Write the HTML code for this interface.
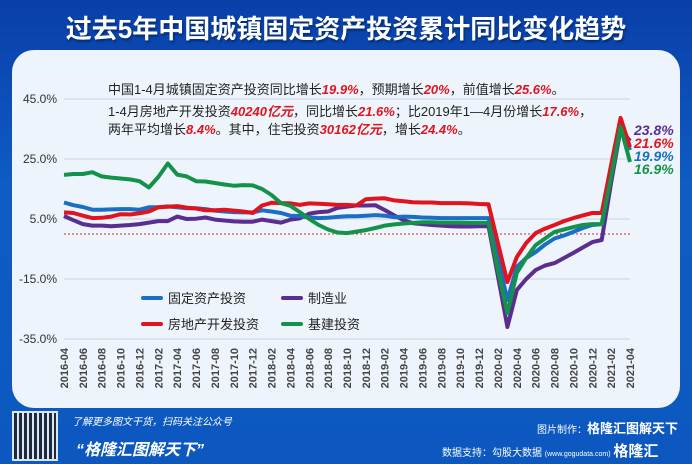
<!DOCTYPE html>
<html><head><meta charset="utf-8">
<style>
body{margin:0;width:692px;height:464px;overflow:hidden;background:linear-gradient(180deg,#0a3fa8 0%,#0e5cc4 40%,#0c58bf 100%);font-family:"Liberation Sans","Noto Sans CJK SC",sans-serif;position:relative}
.t{position:absolute;white-space:nowrap}
.r{color:#e0141e;font-weight:bold;font-style:italic}
</style></head><body>
<div class="t" style="left:0;width:692px;text-align:center;top:9px;font-size:26px;font-weight:bold;color:#fff;text-shadow:1px 2px 2px #032a6e">过去5年中国城镇固定资产投资累计同比变化趋势</div>
<div style="position:absolute;left:12px;top:50px;width:668px;height:358px;background:#eef4fb;border-radius:22px"></div>
<svg id="chart" width="692" height="464" style="position:absolute;left:0;top:0" xmlns="http://www.w3.org/2000/svg"></svg>
<div class="t" style="left:108px;top:79px;font-size:13px;color:#222">中国1-4月城镇固定资产投资同比增长<span class="r">19.9%</span>，预期增长<span class="r">20%</span>，前值增长<span class="r">25.6%</span>。</div>
<div class="t" style="left:108px;top:101px;font-size:13px;color:#222">1-4月房地产开发投资<span class="r">40240亿元</span>，同比增长<span class="r">21.6%</span>；比2019年1—4月份增长<span class="r">17.6%</span>，</div>
<div class="t" style="left:108px;top:119px;font-size:13px;color:#222">两年平均增长<span class="r">8.4%</span>。其中，住宅投资<span class="r">30162亿元</span>，增长<span class="r">24.4%</span>。</div>
<div class="t" style="left:634px;top:122px;font-size:14px;font-weight:bold;font-style:italic;color:#5b2d91">23.8%</div>
<div class="t" style="left:634px;top:135px;font-size:14px;font-weight:bold;font-style:italic;color:#e0141e">21.6%</div>
<div class="t" style="left:634px;top:148px;font-size:14px;font-weight:bold;font-style:italic;color:#1a6fc4">19.9%</div>
<div class="t" style="left:634px;top:161px;font-size:14px;font-weight:bold;font-style:italic;color:#14924a">16.9%</div>
<div style="position:absolute;left:12px;top:411px;width:46px;height:50px;background:repeating-linear-gradient(90deg,#222 0 3px,#fff 3px 5px),#fff;opacity:.85;border:2px solid #fff;box-sizing:border-box"></div>
<div class="t" style="left:72px;top:413px;font-size:10px;font-style:italic;color:#fff">了解更多图文干货，扫码关注公众号</div>
<div class="t" style="left:76px;top:436px;font-size:16px;font-weight:bold;font-style:italic;color:#fff">“格隆汇图解天下”</div>
<div class="t" style="left:537px;top:418px;font-size:10px;color:#fff">图片制作：<b style="font-size:13px">格隆汇图解天下</b></div>
<div class="t" style="left:442px;top:440px;font-size:10px;color:#fff">数据支持：勾股大数据 <span style="font-size:7px">(www.gogudata.com)</span> <b style="font-size:15px">格隆汇</b></div>
<script>
const categories=[];for(let y=2016;y<=2021;y++)for(let m=1;m<=12;m++){if((y===2016&&m<4)||(y===2021&&m>4))continue;categories.push(y+'-'+String(m).padStart(2,'0'));}
const yTicks=[45,25,5,-15,-35];
const fixedAsset=[10.5,9.6,9.0,8.1,8.1,8.2,8.3,8.3,8.1,8.9,8.9,9.2,8.9,8.6,8.6,8.3,7.8,7.5,7.3,7.2,7.2,7.9,7.5,7.0,6.1,6.0,5.5,5.3,5.4,5.7,5.9,5.9,6.1,6.3,6.1,5.6,5.8,5.7,5.5,5.4,5.3,5.3,5.3,5.3,5.3,5.3,-8,-22,-11,-8,-6,-3.5,-1.5,-0.5,0.7,2,3,3.3,20,36,28];
const realEstate=[7.2,7.0,6.1,5.3,5.4,5.8,6.6,6.5,6.9,7.5,8.9,9.1,9.3,8.8,8.5,7.9,7.9,8.1,7.8,7.5,7.0,9.5,10.4,10.3,10.2,9.7,10.2,10.1,9.9,9.7,9.7,9.5,11.6,11.8,11.9,11.2,10.9,10.6,10.5,10.5,10.3,10.3,10.3,10.2,10.0,9.9,-3,-16,-7.7,-3,0.3,1.8,3,4.3,5.3,6.2,7,7,23,38.7,29];
const manufacturing=[6.0,4.6,3.3,2.8,2.8,2.6,2.8,3.0,3.3,3.8,4.3,4.3,5.8,5.0,5.1,5.5,4.8,4.5,4.2,4.1,4.1,4.8,4.3,3.8,4.8,5.2,6.8,7.3,7.5,8.7,9.1,9.5,9.5,9.6,8.0,6.2,4.6,3.6,3.3,3.0,2.8,2.6,2.5,2.5,2.6,2.6,-14,-31,-18.7,-15,-12,-10.5,-9.7,-8,-6.3,-4.5,-2.7,-2,17,35,31];
const infrastructure=[19.7,20.0,20.0,20.6,19.2,18.8,18.5,18.2,17.6,15.5,19.0,23.5,19.8,19.2,17.6,17.5,17.0,16.5,16.1,16.3,16.2,15.0,13.0,10.3,9.4,7.3,5.0,3.0,1.5,0.5,0.3,0.8,1.3,2.0,2.8,3.2,3.5,3.7,3.9,3.9,3.8,3.8,3.8,3.7,3.7,3.7,-12,-26.3,-13,-8,-3.7,-1.5,0.7,1.5,2.3,3,3.3,3.3,19,35.7,24];
const svg=document.getElementById('chart');const NS='http://www.w3.org/2000/svg';
const x0=64,x1=630,yBase=219;
function xs(i){return x0+(x1-x0)*i/(categories.length-1);}
function ys(v){return yBase-(v-5)*3;}
function mk(tag,attrs){const e=document.createElementNS(NS,tag);for(const k in attrs)e.setAttribute(k,attrs[k]);svg.appendChild(e);return e;}
yTicks.forEach(v=>{
 const g=mk('line',{x1:64,x2:630,y1:ys(v),y2:ys(v),stroke:'#c9d2dc','stroke-width':1});
 
 
 const t=mk('text',{x:57,y:ys(v)+4,'text-anchor':'end','font-size':12,fill:'#333','font-family':'Liberation Sans'});
 t.textContent=v.toFixed(1)+'%';
 
 
});
const zl=mk('line',{x1:64,x2:632,y1:ys(0),y2:ys(0),stroke:'#d03030','stroke-width':1,'stroke-dasharray':'2,2'});


categories.forEach((c,i)=>{
 if(i%2)return;
 const t=mk('text',{transform:`translate(${xs(i)+4},348) rotate(-90)`,'text-anchor':'end','font-size':11,'font-weight':'bold',fill:'#444','font-family':'Liberation Sans'});
 t.textContent=c;
 
 
});
const series=[[infrastructure,'#14924a','infrastructure-line'],[manufacturing,'#5b2d91','manufacturing-line'],[fixedAsset,'#1a6fc4','fixed-asset-line'],[realEstate,'#e0141e','real-estate-line']];
const order=[series[1],series[2],series[3],series[0]];
order.forEach(s=>{
 const p=mk('polyline',{points:s[0].map((v,i)=>xs(i).toFixed(1)+','+ys(v).toFixed(1)).join(' '),fill:'none',stroke:s[1],'stroke-width':4,'stroke-linejoin':'round'});
 
 
});
const leg=[['固定资产投资','#1a6fc4',143,298],['制造业','#5b2d91',283,298],['房地产开发投资','#e0141e',143,324],['基建投资','#14924a',283,324]];
leg.forEach(l=>{
 const ln=mk('line',{x1:l[2],x2:l[2]+18,y1:l[3],y2:l[3],stroke:l[1],'stroke-width':4,'stroke-linecap':'round'});
 
 
 const t=mk('text',{x:l[2]+25,y:l[3]+5,'font-size':13,fill:'#222','font-family':'Liberation Sans, Noto Sans CJK SC, sans-serif'});
 t.textContent=l[0];
 
 
});
</script>
</body></html>
